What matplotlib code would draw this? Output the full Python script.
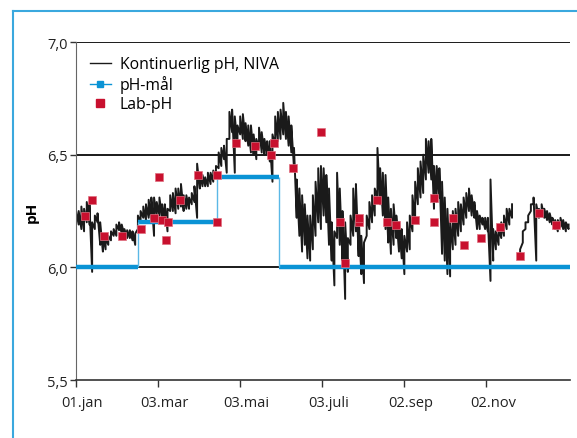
import numpy as np
import matplotlib.pyplot as plt
import matplotlib.transforms as mtransforms
from matplotlib.lines import Line2D

plt.rcParams['font.family'] = ['Open Sans', 'DejaVu Sans']

# continuous pH logger, sampled every 2nd day as (low, high) of the day's swing
cont_days = np.arange(0, 367, 2)
cont_lo = [
    6.20, 6.19, 6.17, 6.16, 6.20, 6.19, 5.98, 6.17, 6.20, 6.10,
    6.07, 6.08, 6.10, 6.12, 6.14, 6.14, 6.165, 6.15, 6.14, 6.13,
    6.13, 6.12, 6.10, 6.17, 6.20, 6.22, 6.21, 6.22, 6.21, 6.14,
    6.22, 6.23, 6.22, 6.21, 6.16, 6.25, 6.25, 6.24, 6.26, 6.27,
    6.25, 6.26, 6.26, 6.28, 6.29, 6.22, 6.35, 6.36, 6.36, 6.36,
    6.37, 6.38, 6.40, 6.44, 6.45, 6.48, 6.42, 6.57, 6.60, 6.42,
    6.54, 6.59, 6.57, 6.56, 6.54, 6.51, 6.50, 6.48, 6.53, 6.51,
    6.50, 6.50, 6.47, 6.38, 6.54, 6.56, 6.57, 6.59, 6.57, 6.54,
    6.51, 6.44, 6.22, 6.14, 6.07, 6.10, 6.04, 6.03, 6.08, 6.14,
    6.20, 6.17, 6.23, 6.20, 6.10, 6.03, 5.92, 6.13, 6.10, 6.03,
    5.86, 5.98, 6.10, 6.14, 6.16, 6.05, 5.97, 5.93, 6.14, 6.17,
    6.20, 6.23, 6.31, 6.28, 6.23, 6.17, 6.11, 6.06, 6.10, 6.13,
    6.07, 6.04, 5.97, 6.07, 6.08, 6.16, 6.20, 6.28, 6.31, 6.33,
    6.39, 6.42, 6.39, 6.26, 6.29, 6.31, 6.06, 6.03, 5.97, 5.96,
    6.08, 6.10, 6.14, 6.16, 6.19, 6.22, 6.25, 6.23, 6.22, 6.17,
    6.17, 6.19, 6.17, 6.16, 5.94, 6.03, 6.08, 6.10, 6.13, 6.14,
    6.17, 6.19, 6.22, np.nan, np.nan, 6.04, 6.11, 6.17, 6.20, 6.25,
    6.28, 6.03, 6.22, 6.23, 6.22, 6.21, 6.20, 6.19, 6.17, 6.16,
    6.18, 6.17, 6.16, 6.17,
]
cont_hi = [
    6.25, 6.25, 6.27, 6.26, 6.29, 6.28, 6.20, 6.23, 6.24, 6.20,
    6.14, 6.13, 6.14, 6.16, 6.17, 6.19, 6.20, 6.19, 6.17, 6.165,
    6.165, 6.16, 6.15, 6.23, 6.25, 6.27, 6.28, 6.30, 6.31, 6.31,
    6.29, 6.31, 6.28, 6.28, 6.26, 6.32, 6.33, 6.35, 6.35, 6.37,
    6.32, 6.32, 6.31, 6.33, 6.36, 6.46, 6.42, 6.41, 6.40, 6.42,
    6.42, 6.43, 6.45, 6.51, 6.53, 6.54, 6.57, 6.69, 6.70, 6.67,
    6.63, 6.67, 6.68, 6.64, 6.63, 6.63, 6.59, 6.57, 6.62, 6.60,
    6.57, 6.56, 6.56, 6.59, 6.67, 6.69, 6.70, 6.73, 6.69, 6.67,
    6.63, 6.53, 6.39, 6.35, 6.32, 6.28, 6.23, 6.23, 6.32, 6.38,
    6.44, 6.45, 6.44, 6.41, 6.35, 6.20, 6.16, 6.42, 6.35, 6.25,
    6.20, 6.13, 6.23, 6.35, 6.37, 6.23, 6.14, 6.11, 6.23, 6.29,
    6.32, 6.35, 6.53, 6.44, 6.42, 6.41, 6.31, 6.26, 6.28, 6.23,
    6.20, 6.17, 6.14, 6.20, 6.23, 6.32, 6.38, 6.44, 6.47, 6.50,
    6.57, 6.56, 6.57, 6.45, 6.45, 6.44, 6.38, 6.31, 6.26, 6.20,
    6.25, 6.26, 6.29, 6.28, 6.31, 6.33, 6.35, 6.32, 6.29, 6.25,
    6.23, 6.22, 6.22, 6.22, 6.39, 6.17, 6.16, 6.17, 6.20, 6.23,
    6.26, 6.26, 6.28, np.nan, np.nan, 6.08, 6.16, 6.20, 6.23, 6.28,
    6.31, 6.28, 6.26, 6.28, 6.26, 6.25, 6.24, 6.22, 6.21, 6.21,
    6.22, 6.21, 6.20, 6.19,
]

# target pH per period
target_start = [0, 46, 105, 151]
target_end = [46, 105, 151, 367]
target_ph = [6.0, 6.2, 6.4, 6.0]

# lab samples
lab_days = [7, 12, 21, 34, 48, 58, 62, 64, 68, 67, 77, 91, 105, 105, 119,
            133, 145, 147, 161, 182, 196, 200, 210, 210, 224, 231, 238, 252,
            266, 266, 280, 288, 301, 315, 330, 344, 357]
lab_ph = [6.23, 6.30, 6.14, 6.14, 6.17, 6.22, 6.40, 6.21, 6.20, 6.12, 6.30,
          6.41, 6.41, 6.20, 6.55, 6.54, 6.50, 6.55, 6.44, 6.60, 6.20, 6.02,
          6.20, 6.22, 6.30, 6.20, 6.19, 6.21, 6.31, 6.20, 6.22, 6.10, 6.13,
          6.18, 6.05, 6.24, 6.19]

tick_days = [0, 61, 122, 183, 244, 305]
tick_labels = ['01.jan', '03.mar', '03.mai', '03.juli', '02.sep', '02.nov']
y_ticks = [5.5, 6.0, 6.5, 7.0]
y_labels = ['5,5', '6,0', '6,5', '7,0']

blue = '#0a93d5'
red = '#c8102e'

fig = plt.figure(figsize=(5.77, 4.39), dpi=100)
ax = fig.add_axes([0.1317, 0.132, 0.856, 0.770])

for y in [6.0, 6.5, 7.0]:
    ax.axhline(y, color='#1a1a1a', lw=1.4, zorder=1)

# logger trace: zigzag between low and high of each sample
xs = np.repeat(cont_days, 2)
ys = np.column_stack([cont_lo, cont_hi]).ravel()
ax.plot(xs, ys, color='#1a1a1a', lw=1.4, zorder=2)

# target steps
ax.hlines(target_ph, target_start, target_end, color=blue, lw=3.2, zorder=3)
for i in range(1, len(target_ph)):
    ax.vlines(target_start[i], min(target_ph[i - 1], target_ph[i]),
              max(target_ph[i - 1], target_ph[i]), color='#5bb8e6', lw=1.0, zorder=3)

ax.plot(lab_days, lab_ph, 's', color=red, ms=5.8, mec='#e07080', mew=0.5, zorder=4)

ax.set_xlim(0, 367)
ax.set_ylim(5.5, 7.0)
ax.set_xticks(tick_days)
ax.set_xticklabels(tick_labels)
ax.set_yticks(y_ticks)
ax.set_yticklabels(y_labels)
ax.tick_params(axis='x', length=5, width=1, color='#333333', labelsize=10.5,
               labelcolor='#222222', pad=6)
ax.tick_params(axis='y', length=4, width=1, color='#333333', labelsize=10.5,
               labelcolor='#222222', pad=2)
# date labels sit a little right of their ticks
offset = mtransforms.ScaledTranslation(6.5 / 100, 0, fig.dpi_scale_trans)
for lbl in ax.get_xticklabels():
    lbl.set_transform(lbl.get_transform() + offset)

for side in ['top', 'right']:
    ax.spines[side].set_visible(False)
ax.spines['left'].set_color('#666666')
ax.spines['bottom'].set_color('#333333')
ax.spines['bottom'].set_linewidth(1.2)
ax.set_ylabel('pH', fontsize=11, fontweight='bold', labelpad=6)

handles = [
    Line2D([], [], color='#1a1a1a', lw=1.0),
    Line2D([], [], color=blue, lw=1.0, marker='s', ms=4),
    Line2D([], [], color=red, lw=0, marker='s', ms=6),
]
ax.legend(handles, ['Kontinuerlig pH, NIVA', 'pH-mål', 'Lab-pH'], loc='upper left',
          frameon=False, fontsize=11.3, handlelength=1.3, handletextpad=0.6,
          labelspacing=0.2, bbox_to_anchor=(0.0, 1.0))

# light blue frame
fig.add_artist(Line2D([13 / 577, 13 / 577], [0, 1 - 12 / 439], color='#3aa8de', lw=1.5))
fig.add_artist(Line2D([13 / 577, 1], [1 - 12 / 439, 1 - 12 / 439], color='#3aa8de', lw=1.5))

fig.savefig('out.png', dpi=100)
